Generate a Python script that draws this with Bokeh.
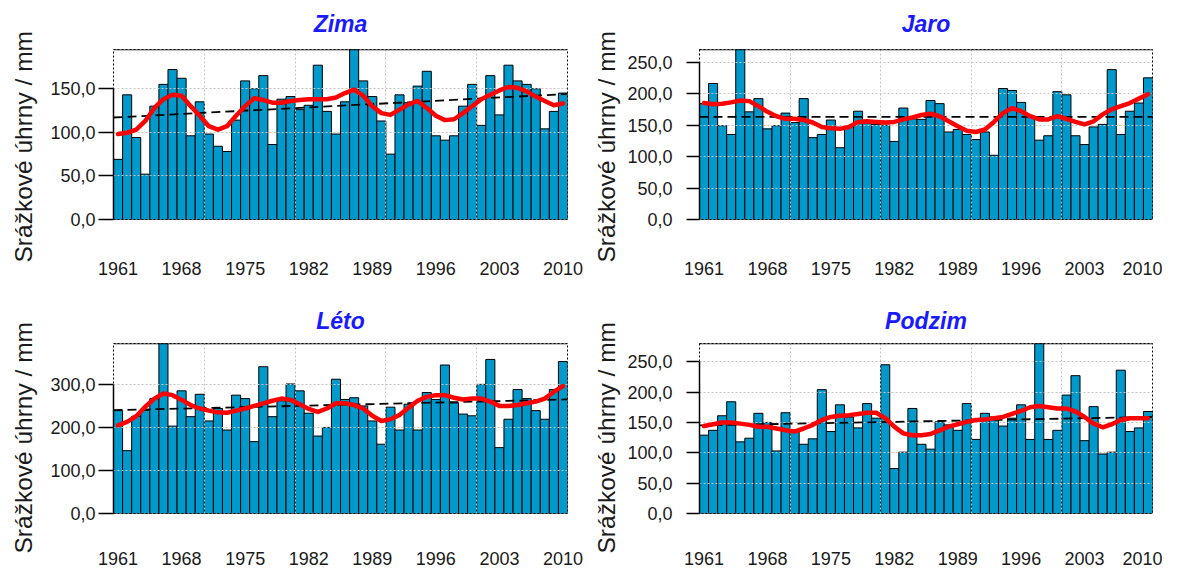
from bokeh.plotting import figure
from bokeh.layouts import column, row
from bokeh.models import FixedTicker, Span, Range1d, Title
from bokeh.embed import file_html
from bokeh.resources import INLINE

years = list(range(1961, 2011))
x_ticks = [1961, 1968, 1975, 1982, 1989, 1996, 2003, 2010]
y_axis_title = "Srážkové úhrny / mm"

zima = [69, 143, 94, 52, 130, 155, 172, 162, 96, 135,
        98, 84, 78, 114, 159, 150, 165, 86, 138, 141,
        126, 131, 177, 124, 98, 135, 200, 159, 141, 113,
        75, 143, 134, 153, 170, 96, 91, 96, 130, 155,
        108, 165, 120, 177, 159, 155, 150, 104, 124, 145]
zima_smooth = [98, 99.5, 103, 113, 128, 138, 143, 142, 130, 119,
               107, 103, 107, 119, 130, 139, 137, 134, 134, 136,
               137, 138, 138, 138, 140, 145, 149, 142, 130, 122,
               120, 126, 132, 136, 128, 119, 114, 115, 122, 130,
               138, 143, 148, 152, 151, 147, 141, 136, 131, 133]
zima_trend = [117, 144]
zima_yticks = [0, 50, 100, 150]
zima_ylabels = ["0,0", "50,0", "100,0", "150,0"]

jaro = [184, 216, 149, 135, 275, 171, 192, 144, 149, 169,
        154, 192, 130, 135, 158, 114, 148, 172, 153, 151,
        150, 124, 177, 160, 159, 189, 184, 139, 143, 135,
        127, 139, 102, 208, 205, 186, 164, 126, 133, 203,
        198, 133, 119, 147, 151, 238, 135, 172, 185, 225]
jaro_smooth = [185, 183, 184, 186, 189, 188, 180, 171, 164, 160,
               160, 158, 154, 147, 145, 144, 147, 155, 156, 155,
               154, 155, 159, 162, 166, 168, 164, 156, 148, 141,
               139, 143, 155, 169, 177, 172, 164, 159, 159, 164,
               160, 155, 151, 156, 167, 175, 180, 185, 192, 199]
jaro_trend = [163, 163]
jaro_yticks = [0, 50, 100, 150, 200, 250]
jaro_ylabels = ["0,0", "50,0", "100,0", "150,0", "200,0", "250,0"]

leto = [239, 146, 226, 240, 267, 400, 203, 285, 225, 277,
        215, 244, 194, 275, 267, 167, 341, 225, 262, 301,
        285, 233, 180, 200, 312, 265, 269, 250, 215, 161,
        247, 194, 254, 194, 281, 265, 345, 257, 231, 227,
        300, 358, 153, 219, 288, 267, 239, 219, 288, 353]
leto_smooth = [205, 213, 226, 248, 267, 279, 275, 264, 252, 244,
               239, 235, 234, 239, 244, 250, 256, 262, 267, 264,
               254, 243, 236, 244, 256, 256, 252, 244, 227, 215,
               219, 229, 246, 262, 271, 275, 275, 269, 265, 267,
               267, 260, 250, 250, 252, 256, 260, 267, 283, 296]
leto_trend = [240, 265]
leto_yticks = [0, 100, 200, 300]
leto_ylabels = ["0,0", "100,0", "200,0", "300,0"]

podzim = [129, 137, 161, 184, 118, 124, 165, 150, 103, 166,
          137, 114, 123, 204, 135, 179, 159, 141, 181, 157,
          245, 74, 101, 173, 114, 106, 151, 146, 137, 181,
          122, 165, 159, 144, 157, 179, 122, 290, 122, 137,
          195, 227, 120, 176, 98, 101, 236, 135, 141, 168]
podzim_smooth = [144, 147, 150, 150, 148, 146, 143, 143, 140, 137,
                 135, 140, 146, 154, 159, 161, 162, 164, 166, 166,
                 157, 143, 132, 129, 129, 131, 137, 143, 147, 151,
                 154, 155, 157, 159, 164, 169, 175, 177, 175, 173,
                 173, 168, 159, 148, 142, 147, 154, 157, 157, 157]
podzim_trend = [145, 159]
podzim_yticks = [0, 50, 100, 150, 200, 250]
podzim_ylabels = ["0,0", "50,0", "100,0", "150,0", "200,0", "250,0"]

FONT = "Liberation Sans"
TXT = "#1a1a1a"


def make(title, vals, smooth, trend, ymax, yticks, ylabels, frame_w, right,
         bottom, title_standoff, xlab_standoff, tick_out, ylab_standoff,
         ytitle_standoff, ytitle_offset):
    x0 = years[0] - 0.5
    x1 = years[-1] + 0.5
    p = figure(frame_width=frame_w, frame_height=170, output_backend="svg",
               toolbar_location=None,
               x_range=Range1d(x0, x1), y_range=Range1d(0, ymax),
               min_border_left=113, min_border_right=right,
               min_border_top=0, min_border_bottom=bottom)
    p.background_fill_color = "white"
    p.border_fill_color = "white"
    p.outline_line_color = "black"
    p.outline_line_dash = "2 2"
    p.outline_line_width = 1

    p.title = Title(text=title, align="center", vertical_align="top",
                    standoff=title_standoff, text_font=FONT,
                    text_font_size="23px", text_font_style="bold italic",
                    text_color="#1a1aff")

    bars = p.vbar(x=years, top=vals, bottom=0, width=1.0,
                  fill_color="#0099cc", line_color="black", line_width=1)
    bars.level = "image"

    p.line(x=[x0, x1], y=trend, line_color="black", line_width=1.8,
           line_dash="9 5")
    p.line(x=years, y=smooth, line_color="#ff0000", line_width=4.5,
           line_join="round", line_cap="round")

    p.add_layout(Span(location=ymax, dimension="width", line_color="black",
                      line_width=1.5))

    p.xgrid.ticker = FixedTicker(ticks=[y - 0.5 for y in years[10::10]])
    p.ygrid.ticker = FixedTicker(ticks=yticks[1:])
    p.grid.grid_line_color = "#c4c4c4"
    p.grid.grid_line_dash = "2 2"
    p.grid.grid_line_width = 1
    p.grid.level = "underlay"

    xa = p.xaxis[0]
    xa.ticker = FixedTicker(ticks=x_ticks)
    xa.axis_line_color = None
    xa.major_tick_line_color = None
    xa.minor_tick_line_color = None
    xa.major_tick_out = 0
    xa.major_tick_in = 0
    xa.major_label_standoff = xlab_standoff
    xa.major_label_text_font = FONT
    xa.major_label_text_font_size = "18px"
    xa.major_label_text_color = TXT

    ya = p.yaxis[0]
    ya.ticker = FixedTicker(ticks=yticks)
    ya.bounds = (yticks[0], yticks[-1])
    ya.major_label_overrides = {t: l for t, l in zip(yticks, ylabels)}
    ya.axis_line_color = "black"
    ya.axis_line_width = 1.5
    ya.major_tick_line_color = "black"
    ya.major_tick_line_width = 1.5
    ya.major_tick_out = tick_out
    ya.major_tick_in = 0
    ya.minor_tick_line_color = None
    ya.major_label_standoff = ylab_standoff
    ya.major_label_text_font = FONT
    ya.major_label_text_font_size = "18px"
    ya.major_label_text_color = TXT

    p.add_layout(Title(text=y_axis_title, align="left", offset=ytitle_offset,
                       vertical_align="top", standoff=ytitle_standoff,
                       text_font=FONT, text_font_size="24.5px",
                       text_font_style="normal", text_color=TXT), "left")
    return p


p1 = make("Zima", zima, zima_smooth, zima_trend, 195, zima_yticks,
          zima_ylabels, 454, 19, 80, 21, 42, 15, 3, 18, -43)
p2 = make("Jaro", jaro, jaro_smooth, jaro_trend, 270, jaro_yticks,
          jaro_ylabels, 453, 10, 80, 21, 42, 13, 14, 6, -43)
p3 = make("Léto", leto, leto_smooth, leto_trend, 395, leto_yticks,
          leto_ylabels, 454, 19, 58, 16, 38, 15, 3, 18, -40)
p4 = make("Podzim", podzim, podzim_smooth, podzim_trend, 280, podzim_yticks,
          podzim_ylabels, 453, 10, 58, 16, 38, 13, 14, 6, -40)

layout = column(row(p1, p2), row(p3, p4))
open("out.html", "w").write(file_html(layout, INLINE))
